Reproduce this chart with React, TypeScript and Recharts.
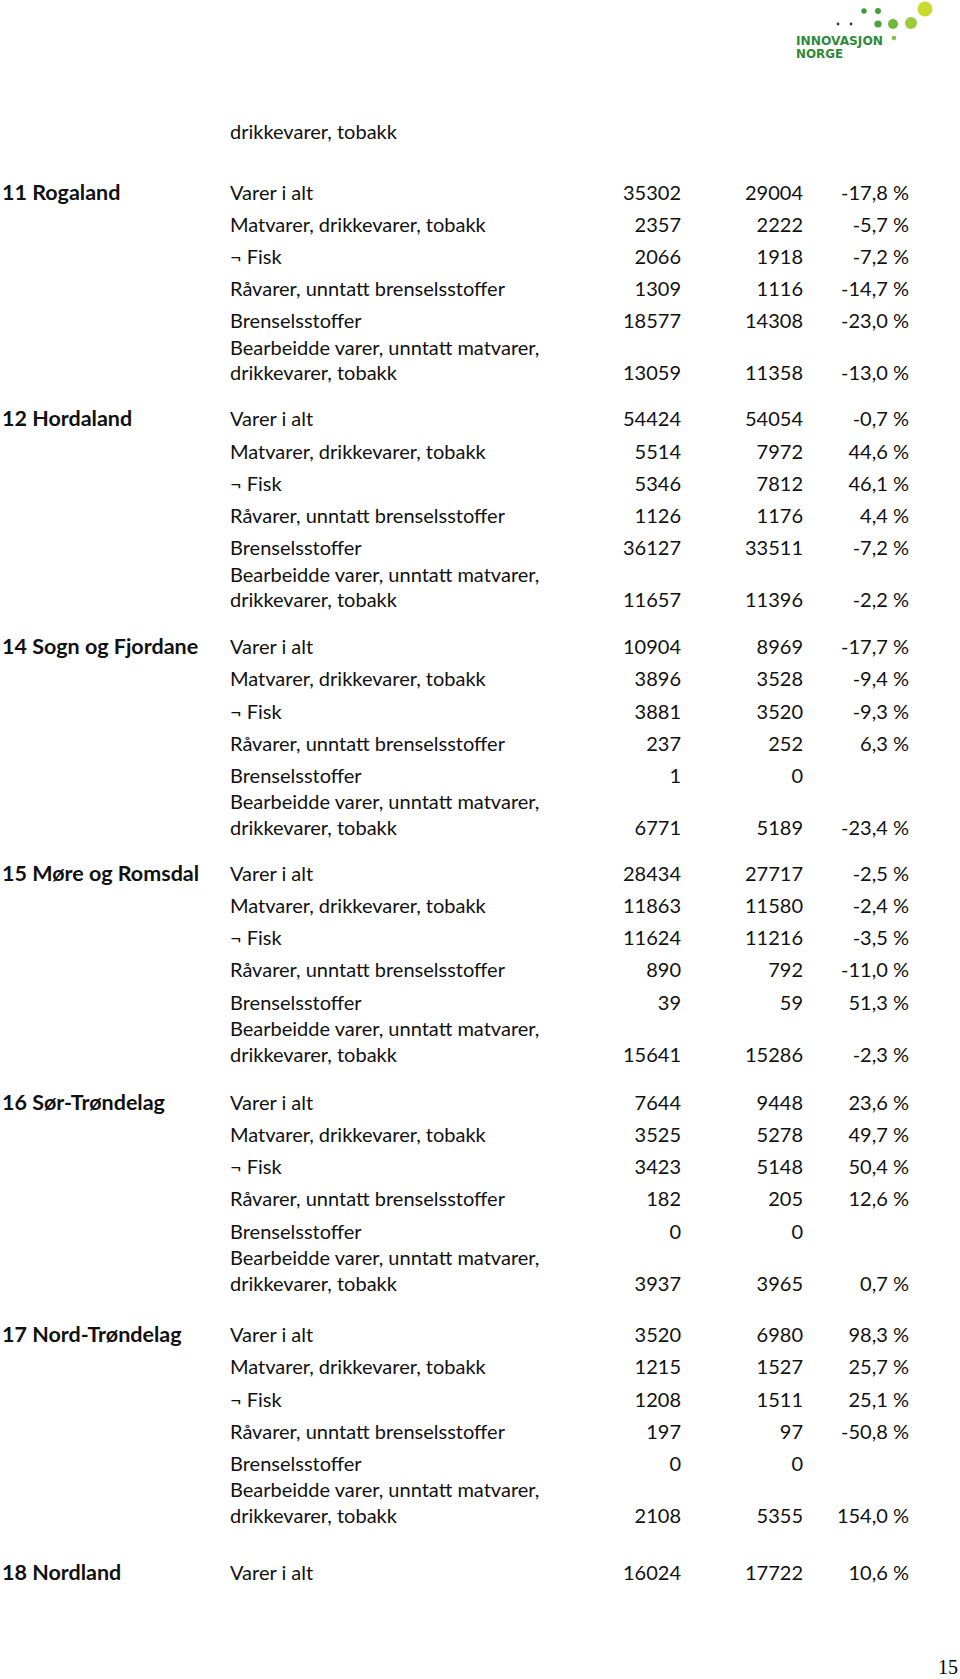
import { ScatterChart, Scatter, XAxis, YAxis } from "recharts";

// region headings, one per group
const REGIONS = [
    "11 Rogaland",
    "12 Hordaland",
    "14 Sogn og Fjordane",
    "15 Møre og Romsdal",
    "16 Sør-Trøndelag",
    "17 Nord-Trøndelag",
    "18 Nordland",
];

const CATEGORIES = [
    "Varer i alt",
    "Matvarer, drikkevarer, tobakk",
    "¬ Fisk",
    "Råvarer, unntatt brenselsstoffer",
    "Brenselsstoffer",
    "Bearbeidde varer, unntatt matvarer,|drikkevarer, tobakk",
];

// tail of the table from the previous page
const CARRY_OVER = "drikkevarer, tobakk";

const VALUES_A = [
    [35302, 2357, 2066, 1309, 18577, 13059],
    [54424, 5514, 5346, 1126, 36127, 11657],
    [10904, 3896, 3881, 237, 1, 6771],
    [28434, 11863, 11624, 890, 39, 15641],
    [7644, 3525, 3423, 182, 0, 3937],
    [3520, 1215, 1208, 197, 0, 2108],
    [16024],
];

const VALUES_B = [
    [29004, 2222, 1918, 1116, 14308, 11358],
    [54054, 7972, 7812, 1176, 33511, 11396],
    [8969, 3528, 3520, 252, 0, 5189],
    [27717, 11580, 11216, 792, 59, 15286],
    [9448, 5278, 5148, 205, 0, 3965],
    [6980, 1527, 1511, 97, 0, 5355],
    [17722],
];

const CHANGE = [
    [-17.8, -5.7, -7.2, -14.7, -23.0, -13.0],
    [-0.7, 44.6, 46.1, 4.4, -7.2, -2.2],
    [-17.7, -9.4, -9.3, 6.3, null, -23.4],
    [-2.5, -2.4, -3.5, -11.0, 51.3, -2.3],
    [23.6, 49.7, 50.4, 12.6, null, 0.7],
    [98.3, 25.7, 25.1, -50.8, null, 154.0],
    [10.6],
];

// layout (row units = one text line)
const W = 960;
const H = 1679;
const LINE_PX = 32.1;
const Y_MIN = -6;
const Y_MAX = Y_MIN + H / LINE_PX;
// where each group starts, the scanned page drifts a little
const GROUP_LINE = [0, 7.067, 14.167, 21.233, 28.367, 35.6, 43.0];
const ITEM_LINE = [0, 1, 2, 3, 4, 5.633];
const WRAP_GAP = 25.7;
const COL_X = { region: 2, category: 230, a: 681, b: 803, pct: 909 };

const FONT = "Lato, 'Open Sans', sans-serif";
const FONT_SIZE = 20;

const fmtPct = (v: number) => v.toFixed(1).replace(".", ",") + " %";

type Cell = { x: number; y: number; label: string };

const regionCells: Cell[] = REGIONS.map((r, g) => ({
    x: COL_X.region,
    y: GROUP_LINE[g],
    label: r,
}));

const categoryCells: Cell[] = [
    { x: COL_X.category, y: -1.9, label: CARRY_OVER },
];
const aCells: Cell[] = [];
const bCells: Cell[] = [];
const pctCells: Cell[] = [];

VALUES_A.forEach((row, g) => {
    row.forEach((v, i) => {
        const y = GROUP_LINE[g] + ITEM_LINE[i];
        categoryCells.push({ x: COL_X.category, y, label: CATEGORIES[i] });
        aCells.push({ x: COL_X.a, y, label: String(v) });
        bCells.push({ x: COL_X.b, y, label: String(VALUES_B[g][i]) });
        const c = CHANGE[g][i];
        if (c !== null && c !== undefined) {
            pctCells.push({ x: COL_X.pct, y, label: fmtPct(c) });
        }
    });
});

function makeShape(anchor: "start" | "end", bold = false) {
    return (props: any) => {
        const { cx, cy, payload } = props;
        const lines: string[] = payload.label.split("|");
        return (
            <g>
                {lines.map((t, k) => (
                    <text
                        key={k}
                        x={cx}
                        y={cy + 7 - (lines.length - 1 - k) * WRAP_GAP}
                        textAnchor={anchor}
                        fontFamily={FONT}
                        fontSize={bold ? 21.5 : FONT_SIZE}
                        fontWeight={bold ? 700 : 400}
                        fill="#111"
                    >
                        {t}
                    </text>
                ))}
            </g>
        );
    };
}

function Logo() {
    const dots = [
        { x: 838, y: 24, r: 1.4, c: "#333" },
        { x: 851, y: 24, r: 1.4, c: "#333" },
        { x: 864, y: 11, r: 2.7, c: "#3d9a3a" },
        { x: 878, y: 11, r: 3, c: "#45a03a" },
        { x: 878, y: 24, r: 3.6, c: "#4aa53a" },
        { x: 893, y: 24, r: 5, c: "#6db83c" },
        { x: 911, y: 23, r: 6, c: "#9ccb3a" },
        { x: 925, y: 9, r: 7.5, c: "#c8da2e" },
        { x: 894, y: 38, r: 2.3, c: "#86c23c" },
    ];
    return (
        <svg
            width={W}
            height={70}
            style={{ position: "absolute", left: 0, top: 0 }}
        >
            {dots.map((d, i) => (
                <circle key={i} cx={d.x} cy={d.y} r={d.r} fill={d.c} />
            ))}
            <text
                x={796}
                y={45}
                fontFamily="'DejaVu Sans', sans-serif"
                fontSize={12}
                fontWeight={700}
                fill="#2f8a3a"
                textLength={87}
                lengthAdjust="spacingAndGlyphs"
            >
                INNOVASJON
            </text>
            <text
                x={796}
                y={58}
                fontFamily="'DejaVu Sans', sans-serif"
                fontSize={12}
                fontWeight={700}
                fill="#2f8a3a"
                textLength={47}
                lengthAdjust="spacingAndGlyphs"
            >
                NORGE
            </text>
        </svg>
    );
}

export default function App() {
    return (
        <div
            style={{
                position: "absolute",
                left: 0,
                top: 0,
                width: W,
                height: H,
                background: "#fff",
            }}
        >
            <ScatterChart
                width={W}
                height={H}
                margin={{ top: 0, right: 0, bottom: 0, left: 0 }}
            >
                <XAxis
                    type="number"
                    dataKey="x"
                    domain={[0, W]}
                    hide
                    allowDataOverflow
                />
                <YAxis
                    type="number"
                    dataKey="y"
                    domain={[Y_MIN, Y_MAX]}
                    reversed
                    hide
                    allowDataOverflow
                />
                <Scatter
                    data={regionCells}
                    shape={makeShape("start", true)}
                    isAnimationActive={false}
                />
                <Scatter
                    data={categoryCells}
                    shape={makeShape("start")}
                    isAnimationActive={false}
                />
                <Scatter
                    data={aCells}
                    shape={makeShape("end")}
                    isAnimationActive={false}
                />
                <Scatter
                    data={bCells}
                    shape={makeShape("end")}
                    isAnimationActive={false}
                />
                <Scatter
                    data={pctCells}
                    shape={makeShape("end")}
                    isAnimationActive={false}
                />
            </ScatterChart>
            <Logo />
            <div
                style={{
                    position: "absolute",
                    right: 2,
                    top: 1656,
                    fontFamily: "'Liberation Serif', serif",
                    fontSize: 20,
                }}
            >
                15
            </div>
        </div>
    );
}
